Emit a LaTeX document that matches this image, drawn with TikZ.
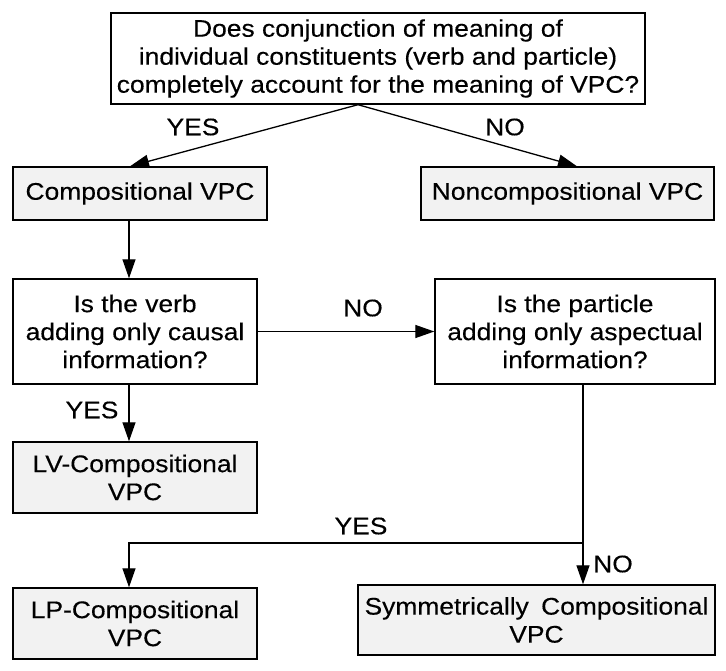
\documentclass[tikz,border=0pt]{standalone}
\usepackage{fontspec}
\setmainfont[FakeStretch=1.1,FakeBold=0.3]{Liberation Sans}
\usetikzlibrary{arrows.meta}
\begin{document}
\begin{tikzpicture}[x=1pt,y=-1pt,
  every node/.style={font=\fontsize{24}{28}\selectfont},
  box/.style={draw=black,line width=1.4pt,inner sep=0pt,align=center,minimum width=#1},
  qbox/.style={box=#1,fill=white},
  abox/.style={box=#1,fill=gray!10},
  arr/.style={line width=1.3pt,-{Triangle[length=19pt,width=13pt]}},
  ln/.style={line width=1.3pt},
  lbl/.style={inner sep=0pt}
]
\useasboundingbox (0,0) rectangle (726,670);
\node[qbox=534pt,minimum height=91pt] (top) at (378,58.5)
  {Does conjunction of meaning of\\individual constituents (verb and particle)\\completely account for the meaning of VPC?};
\node[abox=254pt,minimum height=53pt] (comp) at (140,193.5) {Compositional VPC};
\node[abox=293pt,minimum height=53pt] (noncomp) at (567.5,193.5) {Noncompositional VPC};
\node[qbox=244pt,minimum height=105pt] (verb) at (135,331.5) {Is the verb\\adding only causal\\information?};
\node[qbox=280pt,minimum height=105pt] (part) at (575,331.5) {Is the particle\\adding only aspectual\\information?};
\node[abox=244pt,minimum height=71pt] (lv) at (135,477.5) {LV-Compositional\\VPC};
\node[abox=244pt,minimum height=71pt] (lp) at (135,623.5) {LP-Compositional\\VPC};
\node[abox=357pt,minimum height=70pt] (sym) at (536.5,620) {Symmetrically\hspace{5pt} Compositional\\VPC};

\draw[arr] ([xshift=-20pt]top.south) -- ([xshift=-10pt]comp.north);
\draw[arr] ([xshift=-20pt]top.south) -- ([xshift=9.5pt]noncomp.north);
\draw[arr] ([xshift=-11pt]comp.south) -- ([xshift=-6pt]verb.north);
\draw[arr] (verb.east) -- (part.west);
\draw[arr] ([xshift=-6pt]verb.south) -- ([xshift=-6pt]lv.north);
\coordinate (br) at (583,543);
\draw[ln] ([xshift=8pt]part.south) -- (br);
\draw[arr] (br) -- (br |- sym.north);
\draw[arr] (br) -| ([xshift=-6pt]lp.north);

\node[lbl] (y1) at (193,127) {YES};
\node[lbl] (n1) at (505,127) {NO};
\node[lbl] (n2) at (363,308) {NO};
\node[lbl] (y2) at (92,410) {YES};
\node[lbl] (y3) at (361,526) {YES};
\node[lbl] (n3) at (613,564) {NO};
\end{tikzpicture}
\end{document}
